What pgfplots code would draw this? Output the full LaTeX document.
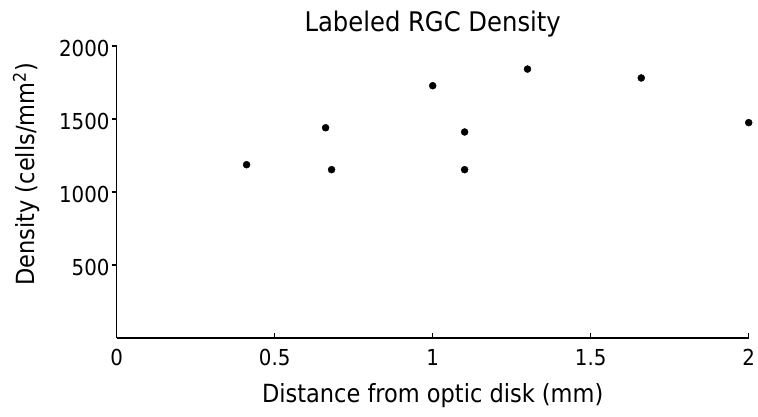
\documentclass[border=0pt]{standalone}
\usepackage{pgfplots}
\pgfplotsset{compat=1.18}
\usepackage{fontspec}
\setmainfont{DejaVu Sans Condensed}
\begin{document}
\begin{tikzpicture}[x=1pt,y=1pt]
\useasboundingbox (-116.7,-78) rectangle (641.3,338);
\begin{axis}[
  at={(0,0)}, anchor=south west,
  scale only axis, width=632pt, height=292pt,
  xmin=0, xmax=2, ymin=0, ymax=2000,
  axis x line*=bottom, axis y line*=left,
  axis line style={line width=1.3pt, -},
  xtick={0,0.5,1,1.5,2}, ytick={500,1000,1500,2000},
  xticklabels={0,0.5,1,1.5,2},
  yticklabels={500,1000,1500,2000},
  x tick style={line width=1.1pt, black}, y tick style={line width=1.1pt, black},
  xtick align=inside, ytick align=outside,
  major tick length=5pt,
  tick label style={font=\fontsize{22}{25}\selectfont},
  xticklabel style={anchor=base, yshift=-27pt},
  yticklabel style={anchor=east, inner sep=0pt, xshift=-2pt, yshift=-2pt},
  xlabel={Distance from optic disk (mm)},
  ylabel={Density (cells/mm\textsuperscript{2})},
  label style={font=\fontsize{25}{28}\selectfont},
  xlabel style={at={(axis description cs:0.5,0)}, anchor=base, yshift=-64pt},
  ylabel style={at={(axis description cs:0,0.56)}, anchor=south, yshift=73pt},
  /pgf/number format/assume math mode=true,
  clip=false,
]
\addplot[only marks, mark=*, mark size=3.5pt, black] coordinates {
(0.411,1187) (0.661,1440) (0.680,1153) (1.0,1728) (1.101,1411) (1.101,1153) (1.30,1842) (1.66,1781) (2.0,1475)
};
\end{axis}
\node[font=\fontsize{27}{30}\selectfont, anchor=base, inner sep=0pt] at (316,306) {Labeled RGC Density};
\end{tikzpicture}
\end{document}
